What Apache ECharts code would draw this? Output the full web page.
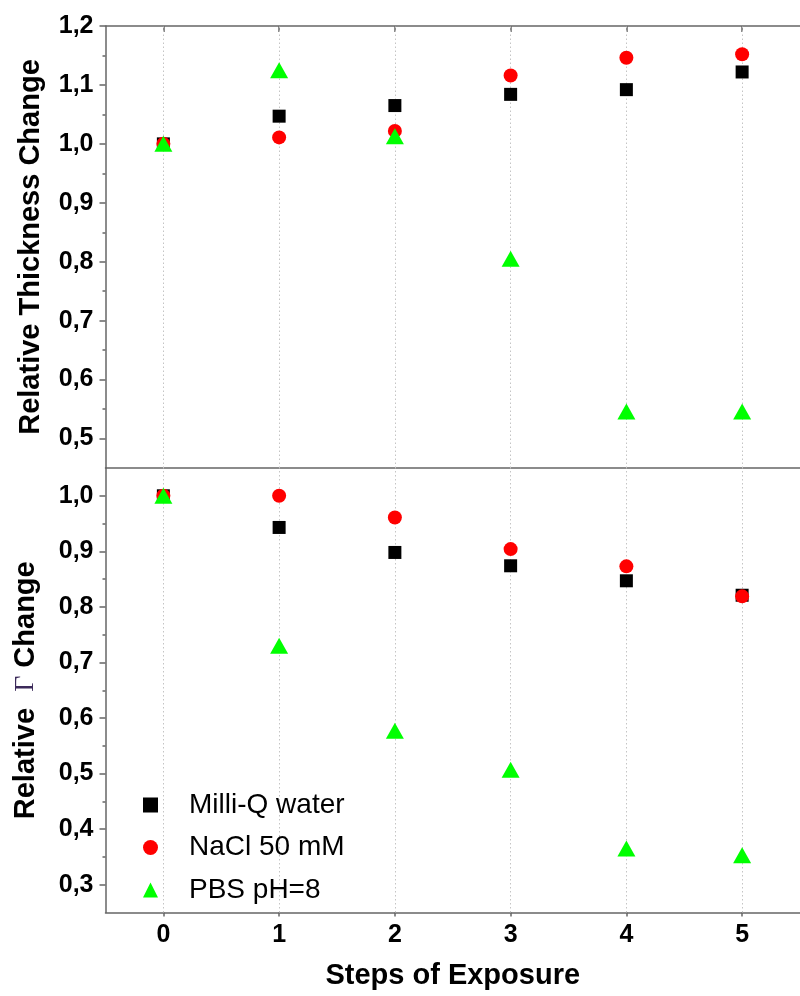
<!DOCTYPE html>
<html><head><meta charset="utf-8">
<script src="https://cdn.jsdelivr.net/npm/echarts@6/dist/echarts.min.js"></script>
<style>html,body{margin:0;padding:0;background:#fff}#c{width:800px;height:996px}</style>
</head><body><div id="c"></div>
<script>
const steps = [0, 1, 2, 3, 4, 5];
const seriesNames = ['Milli-Q water', 'NaCl 50 mM', 'PBS pH=8'];
const thickWater = [1.000, 1.047, 1.065, 1.084, 1.092, 1.122];
const thickNaCl  = [1.000, 1.011, 1.022, 1.116, 1.146, 1.152];
const thickPBS   = [1.000, 1.125, 1.013, 0.805, 0.546, 0.546];
const gammaWater = [1.000, 0.943, 0.898, 0.874, 0.847, 0.821];
const gammaNaCl  = [1.000, 1.000, 0.961, 0.904, 0.873, 0.819];
const gammaPBS   = [1.000, 0.730, 0.577, 0.507, 0.365, 0.353];
const topTicks = [0.5, 0.6, 0.7, 0.8, 0.9, 1.0, 1.1, 1.2];
const topMinor = [0.55, 0.65, 0.75, 0.85, 0.95, 1.05, 1.15];
const bottomTicks = [0.3, 0.4, 0.5, 0.6, 0.7, 0.8, 0.9, 1.0];
const bottomMinor = [0.35, 0.45, 0.55, 0.65, 0.75, 0.85, 0.95];

const AX = '#666';
const FONT = 'Liberation Sans, Arial, sans-serif';
const fmt = v => v.toFixed(1).replace('.', ',');
const symStyles = [
  {symbol: 'rect', symbolSize: 13, color: '#000000'},
  {symbol: 'circle', symbolSize: 14, color: '#ff0000'},
  {symbol: 'triangle', symbolSize: [18, 16], color: '#00ff00'}
];

function xAxisBase(grid, extra) {
  return Object.assign({
    type: 'value', gridIndex: grid, min: -0.5, max: 5.5,
    axisLine: {show: true, onZero: false, lineStyle: {color: AX, width: 1.5}},
    axisTick: {show: false}, axisLabel: {show: false}, splitLine: {show: false}
  }, extra);
}
function yMain(grid, min, max, ticks, name, nameGap, rich) {
  return {
    type: 'value', gridIndex: grid, min: min, max: max, position: 'left',
    axisLine: {show: true, onZero: false, lineStyle: {color: AX, width: 1.5}},
    axisTick: {show: true, inside: false, length: 6, customValues: ticks, lineStyle: {color: AX, width: 1.5}},
    axisLabel: {show: true, customValues: ticks, formatter: fmt, margin: 12,
      fontFamily: FONT, fontWeight: 'bold', fontSize: 25, color: '#000'},
    splitLine: {show: false},
    name: name, nameLocation: 'middle', nameRotate: 90, nameGap: nameGap,
    nameTextStyle: Object.assign({fontFamily: FONT, fontWeight: 'bold', fontSize: 29, color: '#000'}, rich ? {rich: rich} : {})
  };
}
function yMinor(grid, min, max, ticks) {
  return {
    type: 'value', gridIndex: grid, min: min, max: max, position: 'left', offset: 0,
    axisLine: {show: false, onZero: false},
    axisTick: {show: true, inside: false, length: 3, customValues: ticks, lineStyle: {color: AX, width: 1.5}},
    axisLabel: {show: false}, splitLine: {show: false}
  };
}
function scatter(name, data, xi, yi, k) {
  return {
    type: 'scatter', name: name, xAxisIndex: xi, yAxisIndex: yi, z: 10,
    symbol: symStyles[k].symbol, symbolSize: symStyles[k].symbolSize,
    itemStyle: {color: symStyles[k].color, opacity: 1},
    data: steps.map((s, i) => [s, data[i]])
  };
}
function gridLines(xi, yi) {
  return {
    type: 'scatter', xAxisIndex: xi, yAxisIndex: yi, z: 1, data: [], silent: true,
    markLine: {
      z: 1, silent: true, symbol: 'none', animation: false,
      label: {show: false},
      lineStyle: {type: [1.5, 2.5], color: '#c4c4c4', width: 1},
      emphasis: {disabled: true},
      data: steps.map(s => ({xAxis: s}))
    }
  };
}

const chart = echarts.init(document.getElementById('c'), null, {renderer: 'canvas'});
chart.setOption({
  animation: false,
  backgroundColor: '#ffffff',
  grid: [
    {left: 105.5, top: 26, width: 701.5, height: 442},
    {left: 105.5, top: 468, width: 701.5, height: 444.5}
  ],
  xAxis: [
    xAxisBase(0, {position: 'bottom'}),
    xAxisBase(0, {position: 'top', axisTick: {show: true, inside: true, length: 6, customValues: steps, lineStyle: {color: AX, width: 1.5}}}),
    xAxisBase(1, {position: 'bottom',
      axisTick: {show: true, inside: false, length: 4, customValues: steps, lineStyle: {color: AX, width: 1.5}},
      axisLabel: {show: true, customValues: steps, margin: 10, fontFamily: FONT, fontWeight: 'bold', fontSize: 25, color: '#000'},
      name: 'Steps of Exposure', nameLocation: 'middle', nameGap: 49,
      nameTextStyle: {fontFamily: FONT, fontWeight: 'bold', fontSize: 29, color: '#000'}
    })
  ],
  yAxis: [
    yMain(0, 0.45, 1.2, topTicks, 'Relative Thickness Change', 60),
    yMinor(0, 0.45, 1.2, topMinor),
    yMain(1, 0.25, 1.05, bottomTicks, '{a|Relative  }{g|Γ}{a| Change}', 65, {
      a: {fontFamily: FONT, fontWeight: 'bold', fontSize: 29, color: '#000'},
      g: {fontFamily: 'Liberation Serif, DejaVu Serif, serif', fontWeight: 'normal', fontSize: 28, color: '#3c2a5a'}
    }),
    yMinor(1, 0.25, 1.05, bottomMinor)
  ],
  legend: {
    orient: 'vertical', left: 138, top: 785, itemWidth: 15, itemHeight: 15, itemGap: 12.5,
    selectedMode: false, data: seriesNames,
    textStyle: {fontFamily: FONT, fontSize: 28, color: '#000', lineHeight: 30, padding: [0, 0, 0, 26]}
  },
  series: [
    gridLines(0, 0),
    gridLines(2, 2),
    scatter(seriesNames[0], thickWater, 0, 0, 0),
    scatter(seriesNames[1], thickNaCl, 0, 0, 1),
    scatter(seriesNames[2], thickPBS, 0, 0, 2),
    scatter(seriesNames[0], gammaWater, 2, 2, 0),
    scatter(seriesNames[1], gammaNaCl, 2, 2, 1),
    scatter(seriesNames[2], gammaPBS, 2, 2, 2)
  ]
});
</script></body></html>
